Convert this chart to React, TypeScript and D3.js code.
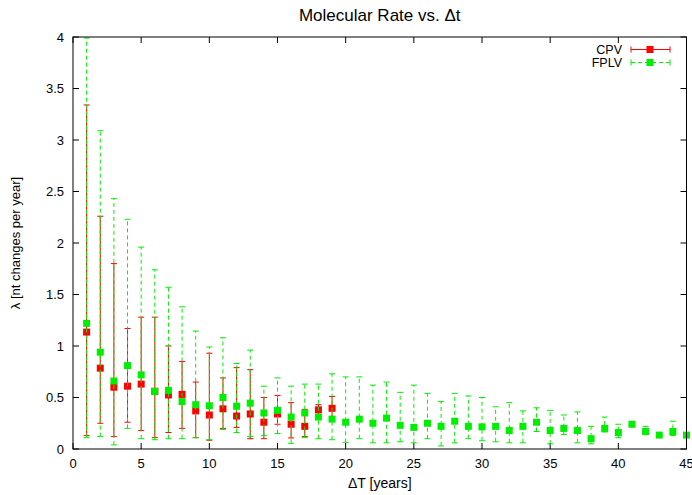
import React from "react";
import * as d3 from "d3";

const cpvX = [1, 2, 3, 4, 5, 6, 7, 8, 9, 10, 11, 12, 13, 14, 15, 16, 17, 18, 19];
const cpvY = [1.135, 0.785, 0.6, 0.61, 0.63, 0.56, 0.525, 0.53, 0.37, 0.33, 0.39, 0.32, 0.34, 0.26, 0.34, 0.24, 0.22, 0.38, 0.395];
const cpvLow = [0.13, 0.25, 0.12, 0.26, 0.18, 0.11, 0.16, 0.2, 0.11, 0.085, 0.2, 0.21, 0.1, 0.1, 0.24, 0.107, 0.12, 0.33, 0.3];
const cpvHigh = [3.34, 2.26, 1.8, 1.17, 1.28, 1.28, 1.0, 0.85, 0.65, 0.93, 0.69, 0.79, 0.77, 0.5, 0.52, 0.45, 0.385, 0.43, 0.51];

const fplvX = [1, 2, 3, 4, 5, 6, 7, 8, 9, 10, 11, 12, 13, 14, 15, 16, 17, 18, 19, 20, 21, 22, 23, 24, 25, 26, 27, 28, 29, 30, 31, 32, 33, 34, 35, 36, 37, 38, 39, 40, 41, 42, 43, 44, 45];
const fplvY = [1.22, 0.94, 0.66, 0.81, 0.72, 0.56, 0.57, 0.46, 0.43, 0.42, 0.5, 0.415, 0.445, 0.35, 0.375, 0.31, 0.35, 0.31, 0.29, 0.26, 0.29, 0.25, 0.3, 0.23, 0.21, 0.25, 0.22, 0.27, 0.22, 0.215, 0.22, 0.18, 0.22, 0.26, 0.18, 0.2, 0.18, 0.1, 0.2, 0.16, 0.24, 0.17, 0.135, 0.17, 0.135];
const fplvLow = [0.11, 0.12, 0.04, 0.2, 0.1, 0.09, 0.1, 0.1, 0.11, 0.09, 0.19, 0.16, 0.12, 0.13, 0.15, 0.055, 0.11, 0.1, 0.09, 0.065, 0.1, 0.06, 0.06, 0.07, 0.06, 0.1, 0.03, 0.06, 0.1, 0.08, 0.07, 0.06, 0.06, 0.17, 0.05, 0.14, 0.06, 0.05, 0.165, 0.11, 0.24, 0.14, 0.135, 0.13, 0.135];
const fplvHigh = [3.99, 3.09, 2.43, 2.23, 1.96, 1.74, 1.57, 1.38, 1.145, 0.99, 1.08, 0.83, 0.96, 0.61, 0.69, 0.61, 0.63, 0.63, 0.73, 0.7, 0.7, 0.62, 0.65, 0.55, 0.62, 0.54, 0.46, 0.54, 0.515, 0.5, 0.41, 0.45, 0.37, 0.4, 0.375, 0.33, 0.36, 0.22, 0.31, 0.24, 0.24, 0.22, 0.135, 0.27, 0.135];

const xTicks = [0, 5, 10, 15, 20, 25, 30, 35, 40, 45];
const yTicks = [0, 0.5, 1, 1.5, 2, 2.5, 3, 3.5, 4];
const seriesNames = ["CPV", "FPLV"];
const titleText = "Molecular Rate vs. \u0394t";
const xLabelText = "\u0394T [years]";
const yLabelText = "\u03bb [nt changes per year]";

const W = 692;
const H = 495;
const L = 73;
const R = 686.5;
const T = 37;
const B = 449;
const RED = "#ff0000";
const GREEN = "#00ee00";
const FONT = "'Liberation Sans', Arial, sans-serif";

export default function App() {
  const x = d3.scaleLinear().domain([0, 45]).range([L, R]);
  const y = d3.scaleLinear().domain([0, 4]).range([B, T]);
  const cap = 3;
  const ps = 7;

  const series = [
    { xs: cpvX, ys: cpvY, lo: cpvLow, hi: cpvHigh, color: RED, dash: undefined as string | undefined },
    { xs: fplvX, ys: fplvY, lo: fplvLow, hi: fplvHigh, color: GREEN, dash: "4,3" },
  ];

  return (
    <svg width={W} height={H} style={{ position: "absolute", left: 0, top: 0, background: "#fff" }} fontFamily={FONT}>
      <rect x={0} y={0} width={W} height={H} fill="#fff" />
      {xTicks.map((t) => (
        <g key={"xt" + t}>
          <line x1={x(t)} x2={x(t)} y1={B} y2={B - 6} stroke="#000" />
          <line x1={x(t)} x2={x(t)} y1={T} y2={T + 6} stroke="#000" />
          <text x={x(t)} y={468} textAnchor="middle" fontSize={13} fill="#000">{t}</text>
        </g>
      ))}
      {yTicks.map((t) => (
        <g key={"yt" + t}>
          <line x1={L} x2={L + 6} y1={y(t)} y2={y(t)} stroke="#000" />
          <line x1={R} x2={R - 6} y1={y(t)} y2={y(t)} stroke="#000" />
          <text x={64} y={y(t) + 4.5} textAnchor="end" fontSize={13} fill="#000">{t}</text>
        </g>
      ))}
      {series.map((s, si) => (
        <g key={"s" + si}>
          {s.xs.map((xv, i) => (
            <g key={i} stroke={s.color} strokeWidth={1}>
              <line x1={x(xv)} x2={x(xv)} y1={y(s.lo[i])} y2={y(s.hi[i])} strokeDasharray={s.dash} />
              <line x1={x(xv) - cap} x2={x(xv) + cap} y1={y(s.lo[i])} y2={y(s.lo[i])} />
              <line x1={x(xv) - cap} x2={x(xv) + cap} y1={y(s.hi[i])} y2={y(s.hi[i])} />
            </g>
          ))}
          {s.xs.map((xv, i) => (
            <rect key={"p" + i} x={x(xv) - ps / 2} y={y(s.ys[i]) - ps / 2} width={ps} height={ps} fill={s.color} />
          ))}
        </g>
      ))}
      <rect x={L} y={T} width={R - L} height={B - T} fill="none" stroke="#000" strokeWidth={1} />
      {seriesNames.map((n, i) => {
        const ly = 49.5 + i * 13;
        const s = series[i];
        return (
          <g key={"lg" + i}>
            <text x={622} y={ly + 4.5} textAnchor="end" fontSize={12.5} fill="#000">{n}</text>
            <line x1={631} x2={670} y1={ly} y2={ly} stroke={s.color} strokeDasharray={s.dash} />
            <line x1={631} x2={631} y1={ly - 3} y2={ly + 3} stroke={s.color} />
            <line x1={670} x2={670} y1={ly - 3} y2={ly + 3} stroke={s.color} />
            <rect x={650 - ps / 2} y={ly - ps / 2} width={ps} height={ps} fill={s.color} />
          </g>
        );
      })}
      <text x={(L + R) / 2} y={21} textAnchor="middle" fontSize={17} fill="#000">{titleText}</text>
      <text x={(L + R) / 2} y={488} textAnchor="middle" fontSize={14} fill="#000">{xLabelText}</text>
      <text transform={`translate(20,${(T + B) / 2}) rotate(-90)`} textAnchor="middle" fontSize={13} fill="#000">{yLabelText}</text>
    </svg>
  );
}
